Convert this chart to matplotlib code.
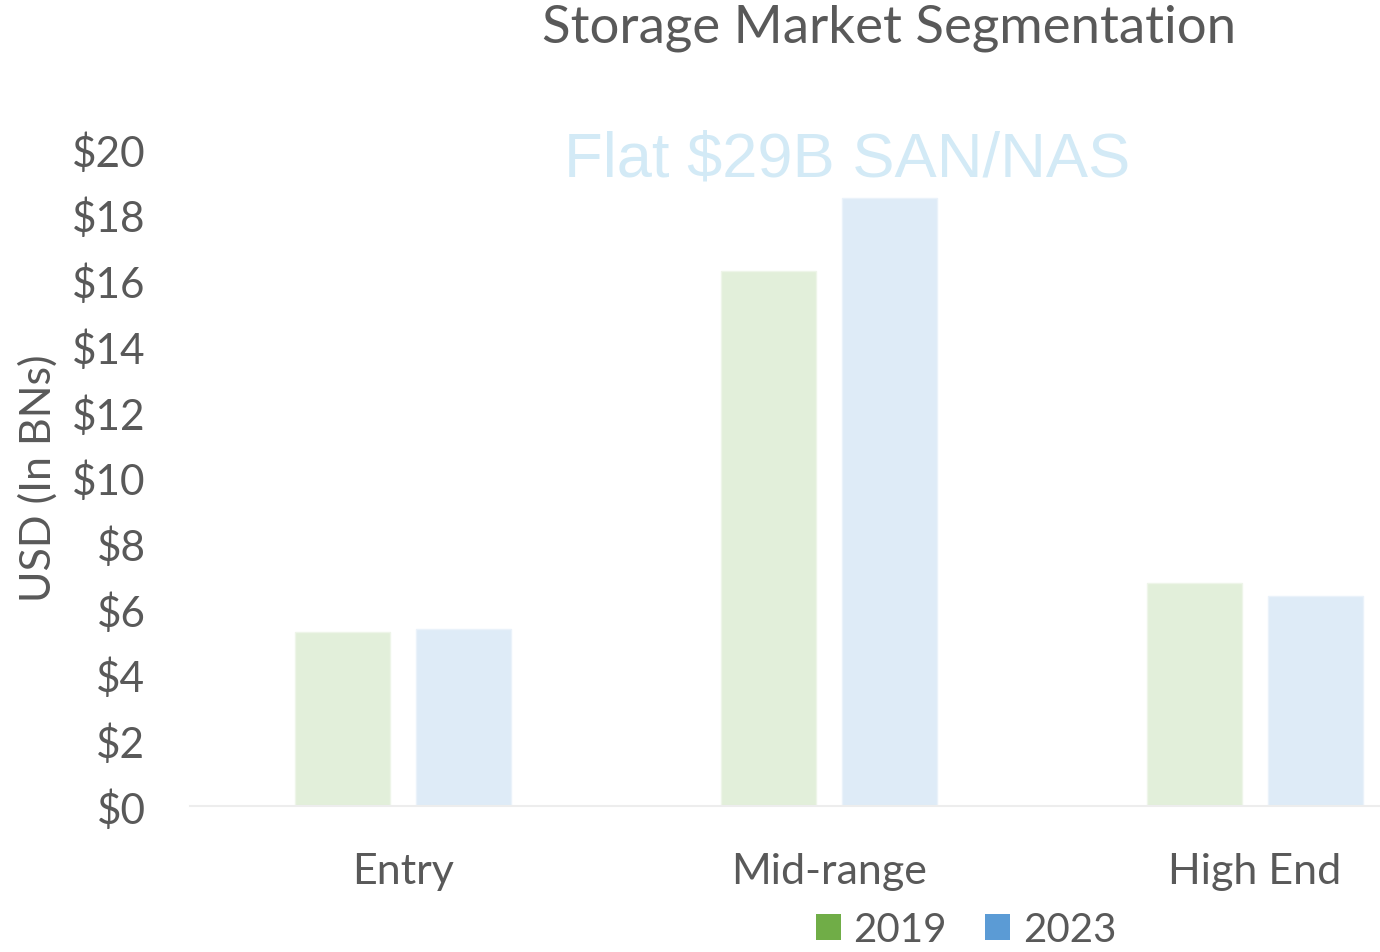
import matplotlib
matplotlib.use("Agg")
import matplotlib.pyplot as plt
import numpy as np
from matplotlib.patches import Patch

categories = ["Entry", "Mid-range", "High End"]
series_names = ["2019", "2023"]
values_2019 = [5.3, 16.3, 6.8]
values_2023 = [5.4, 18.5, 6.4]
yticks = [0, 2, 4, 6, 8, 10, 12, 14, 16, 18, 20]
ytick_labels = ["$" + str(v) for v in yticks]

bar_fill = ["#E2EFDA", "#DEEBF7"]
legend_fill = ["#70AD47", "#5B9BD5"]
text_color = "#595959"
font = "Lato"

fig = plt.figure(figsize=(13.8, 9.53), dpi=100)
ax = fig.add_axes([190/1380, 1-807/953, 1278/1380, 657/953])

x = np.arange(len(categories))
w = 0.225
off = 0.142
ax.bar(x - off, values_2019, w, color=bar_fill[0], edgecolor="#EEF5E9", linewidth=1, zorder=2)
ax.bar(x + off, values_2023, w, color=bar_fill[1], edgecolor="#EAF2FA", linewidth=1, zorder=2)

ax.set_xlim(-0.5, 2.5)
ax.set_ylim(0, 20)
ax.set_yticks(yticks)
ax.set_yticklabels(ytick_labels, family=font, fontsize=30.5, color=text_color)
ax.set_xticks(x)
ax.set_xticklabels(categories, family=font, fontsize=31, color=text_color)
ax.tick_params(axis="y", length=0, pad=32)
ax.tick_params(axis="x", length=0, pad=33)
for lbl in ax.get_yticklabels():
    lbl.set_horizontalalignment("right")
for s in ["top", "right", "left"]:
    ax.spines[s].set_visible(False)
ax.spines["bottom"].set_color("#EDEDED")
ax.spines["bottom"].set_linewidth(1.5)

fig.text(38/1380, 1-478/953, "USD (In BNs)", rotation=90, ha="center", va="center",
         family=font, fontsize=31, color=text_color)
fig.text(889/1380, 1-28/953, "Storage Market Segmentation", ha="center", va="center",
         family=font, fontsize=38, color=text_color)
fig.text(847/1380, 1-160/953, "Flat $29B SAN/NAS", ha="center", va="center",
         family="Liberation Sans", fontsize=45.5, color="#D3EAF6")

handles = [Patch(facecolor=legend_fill[0]), Patch(facecolor=legend_fill[1])]
fig.legend(handles, series_names, loc="center", bbox_to_anchor=(966/1380, 1-931/953),
           ncol=2, frameon=False, prop={"family": font, "size": 29},
           labelcolor=text_color, handlelength=0.62, handleheight=0.62,
           handletextpad=0.32, columnspacing=0.95, borderpad=0.1)

fig.savefig("out.png", dpi=100)
